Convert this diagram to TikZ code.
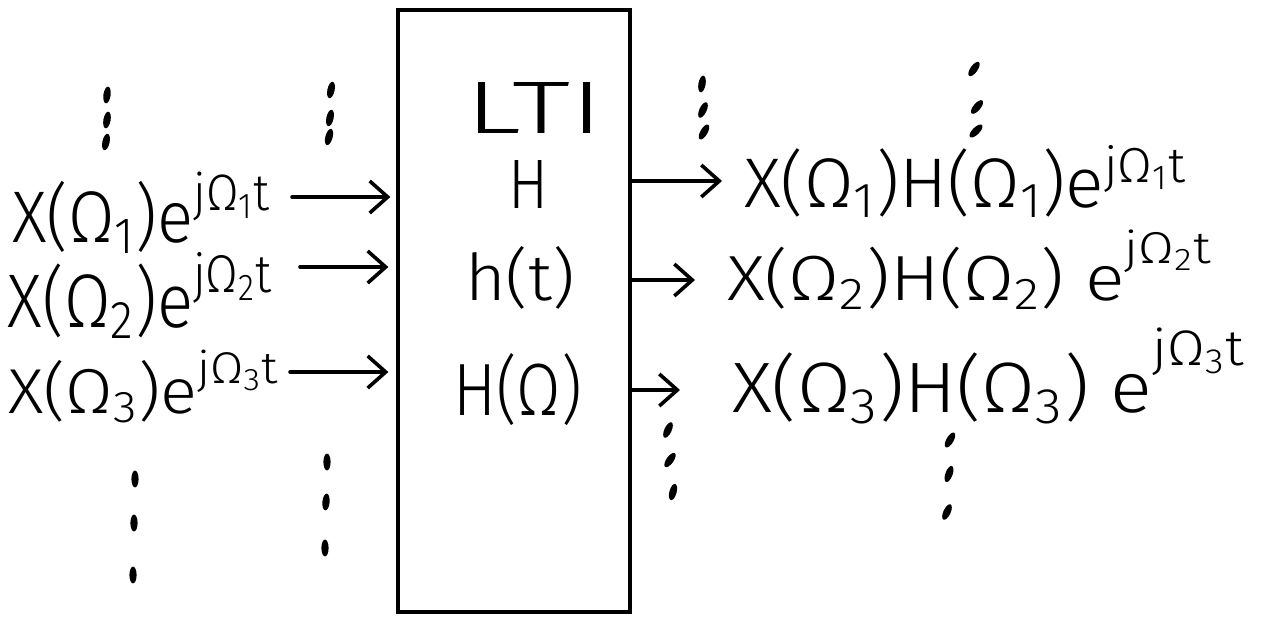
\documentclass[tikz,border=0pt]{standalone}
\usepackage{fontspec}
\setmainfont{Fira Sans Light}
\usepackage{graphicx}
\usetikzlibrary{arrows.meta}
\newcommand\sbs[1]{\textsubscript{#1}}
\newcommand\sps[2]{\raisebox{#1pt}{\fontsize{14}{14}\selectfont #2}}
\newcommand\fitbox[3]{\resizebox{#1pt}{#2pt}{#3}}
\newcommand\hdot[3]{\fill[rotate around={#3:(#1,#2)}] (#1,#2) ellipse (1.8pt and 4.2pt);}
\begin{document}
\begin{tikzpicture}[x=0.5pt,y=-0.5pt,
  lbl/.style={inner sep=0pt, outer sep=0pt, anchor=base west, font=\fontsize{20}{24}\selectfont},
  arr/.style={line width=1.8pt, line cap=round, -{Straight Barb[length=9pt,width=16pt,line width=1.8pt]}},
  blk/.style={draw, line width=1.6pt, minimum width=116pt, minimum height=301pt, inner sep=0pt}
]
\path[use as bounding box] (0,0) rectangle (1267,621);

% LTI block
\node[blk] (box) at (514,311) {};
\node[lbl] (tlti) at (465,133) {\fitbox{69}{25.5}{LTI}};
\node[lbl] (th)   at (508,208) {\fitbox{20}{24}{H}};
\node[lbl] (tht)  at (465,300) {\fitbox{55}{27}{h(t)}};
\node[lbl] (thw)  at (453,415) {\fitbox{64.5}{31}{H(Ω)}};

% inputs
\node[lbl] (l1) at (12,242) {\fitbox{129}{35}{X(Ω\sbs{1})e\sps{8.6}{jΩ\sbs{1}t}}};
\node[lbl] (l2) at (8,327)  {\fitbox{132}{37.5}{X(Ω\sbs{2})e\sps{9.2}{jΩ\sbs{2}t}}};
\node[lbl] (l3) at (8,413)  {\fitbox{135}{31.5}{X(Ω\sbs{3})e\sps{9.3}{jΩ\sbs{3}t}}};

% outputs
\node[lbl] (r1) at (744,207) {\fitbox{221}{31}{X(Ω\sbs{1})H(Ω\sbs{1})e\sps{7.1}{jΩ\sbs{1}t}}};
\node[lbl] (r2) at (727,300) {\fitbox{242}{35}{X(Ω\sbs{2})H(Ω\sbs{2}) e\sps{11.4}{jΩ\sbs{2}t}}};
\node[lbl] (r3) at (732,412) {\fitbox{256}{42}{X(Ω\sbs{3})H(Ω\sbs{3}) e\sps{13}{jΩ\sbs{3}t}}};

% arrow levels
\coordinate (a1) at (0,197);
\coordinate (a2) at (0,267);
\coordinate (a3) at (0,372);
\coordinate (b1) at (0,181);
\coordinate (b2) at (0,280);
\coordinate (b3) at (0,390);

\draw[arr] ([xshift=11pt]l1.east |- a1) -- ([xshift=-3pt]box.west |- a1);
\draw[arr] ([xshift=14pt]l2.east |- a2) -- ([xshift=-4pt]box.west |- a2);
\draw[arr] ([xshift=6pt]l3.east |- a3) -- ([xshift=-4pt]box.west |- a3);
\draw[arr] (box.east |- b1) -- ([xshift=-11pt]r1.west |- b1);
\draw[arr] (box.east |- b2) -- ([xshift=-16pt]r2.west |- b2);
\draw[arr] (box.east |- b3) -- ([xshift=-26pt]r3.west |- b3);

% vertical ellipses (dots)
\hdot{107}{95}{-8}\hdot{107}{120}{-10}\hdot{106}{142}{-12}
\hdot{331}{90}{-12}\hdot{330}{118}{-12}\hdot{329}{137}{-15}
\hdot{702}{84}{-10}\hdot{703}{110}{-25}\hdot{704}{132}{-30}
\hdot{974}{69}{-35}\hdot{977}{107}{-40}\hdot{976}{131}{-45}
\hdot{135}{479}{0}\hdot{134}{523}{0}\hdot{133}{575}{0}
\hdot{327}{462}{0}\hdot{326}{502}{-5}\hdot{325}{548}{0}
\hdot{668}{430}{-25}\hdot{670}{460}{-35}\hdot{673}{492}{-15}
\hdot{950}{440}{-30}\hdot{949}{474}{-20}\hdot{947}{512}{-25}
\end{tikzpicture}
\end{document}
